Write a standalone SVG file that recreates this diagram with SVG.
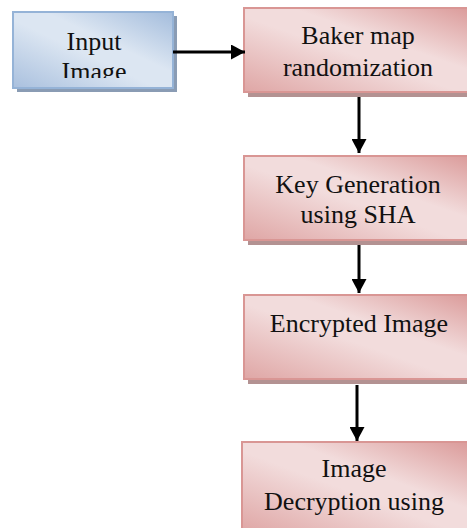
<svg xmlns="http://www.w3.org/2000/svg" width="467" height="528" viewBox="0 0 467 528">
  <defs>
    <linearGradient id="gBlue" x1="0" y1="1" x2="1" y2="0">
      <stop offset="0" stop-color="#a9c0de"/>
      <stop offset="0.45" stop-color="#dce6f2"/>
      <stop offset="0.6" stop-color="#dce6f2"/>
      <stop offset="1" stop-color="#a3bcdc"/>
    </linearGradient>
    <linearGradient id="gRed" x1="0" y1="1" x2="1" y2="0">
      <stop offset="0" stop-color="#dfa6a5"/>
      <stop offset="0.45" stop-color="#f2dcdc"/>
      <stop offset="0.6" stop-color="#f2dcdc"/>
      <stop offset="1" stop-color="#d99695"/>
    </linearGradient>
    <clipPath id="clipInput">
      <rect x="14" y="13" width="158" height="65"/>
    </clipPath>
    <marker id="arrow" markerWidth="15" markerHeight="15" refX="14" refY="7.5" orient="auto" markerUnits="userSpaceOnUse">
      <path d="M0,0 L14,7.5 L0,15 Z" fill="#000"/>
    </marker>
  </defs>
  <style>
    .shadowBlue { fill: #8a9cb4; }
    .shadowRed { fill: #b39292; }
    .boxBlue { fill: url(#gBlue); stroke: #95b3d7; stroke-width: 2; }
    .boxRed { fill: url(#gRed); stroke: #d99694; stroke-width: 2; }
    .label { font-family: "Liberation Serif", "Times New Roman", serif; font-size: 26px; fill: #111; text-anchor: middle; }
    .conn { stroke: #000; stroke-width: 3; fill: none; marker-end: url(#arrow); }
  </style>
  <rect width="467" height="528" fill="#fff"/>

  <g id="input-image">
    <rect class="shadowBlue" x="17" y="16" width="160" height="76"/>
    <rect class="boxBlue" x="13" y="12" width="160" height="76"/>
    <g clip-path="url(#clipInput)">
      <text class="label" x="94" y="50">Input</text>
      <text class="label" x="94" y="80">Image</text>
    </g>
  </g>

  <g id="baker-map">
    <rect class="shadowRed" x="248" y="13" width="240" height="84"/>
    <rect class="boxRed" x="244" y="8" width="240" height="84"/>
    <text class="label" x="358" y="44">Baker map</text>
    <text class="label" x="358" y="76">randomization</text>
  </g>

  <g id="key-generation">
    <rect class="shadowRed" x="248" y="161" width="240" height="84"/>
    <rect class="boxRed" x="244" y="156" width="240" height="84"/>
    <text class="label" x="358" y="193">Key Generation</text>
    <text class="label" x="358" y="223">using SHA</text>
  </g>

  <g id="encrypted-image">
    <rect class="shadowRed" x="248" y="300" width="240" height="84"/>
    <rect class="boxRed" x="244" y="295" width="240" height="84"/>
    <text class="label" x="359" y="332">Encrypted Image</text>
  </g>

  <g id="image-decryption">
    <rect class="shadowRed" x="246" y="447" width="240" height="90"/>
    <rect class="boxRed" x="242" y="442" width="240" height="90"/>
    <text class="label" x="354" y="477">Image</text>
    <text class="label" x="354" y="510">Decryption using</text>
  </g>

  <g id="connectors">
    <path class="conn" d="M173,52 H245"/>
    <path class="conn" d="M359,97 V153"/>
    <path class="conn" d="M359,245 V293"/>
    <path class="conn" d="M357,385 V441"/>
  </g>
</svg>
